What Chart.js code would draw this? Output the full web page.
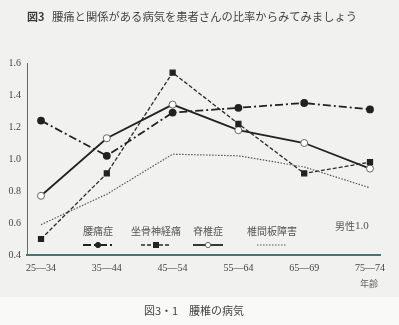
<!DOCTYPE html>
<html><head><meta charset="utf-8">
<script src="https://cdn.jsdelivr.net/npm/chart.js@4/dist/chart.umd.min.js"></script>
<style>html,body{margin:0;padding:0;background:#f1f2f0}#wrap{width:399px;height:325px}</style>
</head><body><div id="wrap"><canvas id="c" width="399" height="325"></canvas></div>
<script>
const ageGroups = ['25—34','35—44','45—54','55—64','65—69','75—74'];
const lumbago = [1.24, 1.02, 1.29, 1.32, 1.35, 1.31];
const sciatica = [0.50, 0.91, 1.54, 1.22, 0.91, 0.98];
const spondylosis = [0.77, 1.13, 1.34, 1.18, 1.10, 0.94];
const discDisorder = [0.59, 0.78, 1.03, 1.02, 0.95, 0.82];
const seriesNames = ['腰痛症','坐骨神経痛','脊椎症','椎間板障害'];
const yTicks = [0.4, 0.6, 0.8, 1.0, 1.2, 1.4, 1.6];
const titleLabel = '図3';
const titleText = '腰痛と関係がある病気を患者さんの比率からみてみましょう';
const captionText = '図3・1　腰椎の病気';
const refText = '男性1.0';
const xAxisTitle = '年齢';

const toPts = arr => arr.map((v,i)=>({x:i,y:v}));
const serif = "'Liberation Serif','DejaVu Serif',serif";
const cjk = "'Noto Sans CJK JP','Noto Sans CJK SC',sans-serif";

const datasets = [
  {label:seriesNames[0], data:toPts(lumbago), borderColor:'#222', borderWidth:1.8, borderDash:[8,3,2,3],
   pointStyle:'circle', pointRadius:3, backgroundColor:'#222', pointBorderColor:'#222'},
  {label:seriesNames[1], data:toPts(sciatica), borderColor:'#2a2a2a', borderWidth:1.3, borderDash:[4,2],
   pointStyle:'rect', pointRadius:3.5, backgroundColor:'#222', pointBorderColor:'#222'},
  {label:seriesNames[2], data:toPts(spondylosis), borderColor:'#222', borderWidth:1.8,
   pointStyle:'circle', pointRadius:3.5, backgroundColor:'#fff', pointBorderColor:'#666', pointBorderWidth:1},
  {label:seriesNames[3], data:toPts(discDisorder), borderColor:'#555', borderWidth:1.2, borderDash:[1.5,1.5],
   pointRadius:0, backgroundColor:'#555'}
];

const legendPos = [98, 156, 208, 272];

const deco = {
  id:'deco',
  beforeDraw(chart){
    const ctx = chart.ctx;
    ctx.save();
    ctx.fillStyle = '#f1f2f0'; ctx.fillRect(0,0,399,297);
    ctx.fillStyle = '#f9f9f8'; ctx.fillRect(0,297,399,28);
    ctx.restore();
  },
  afterDraw(chart){
    const ctx = chart.ctx;
    const ca = chart.chartArea;
    ctx.save();
    ctx.fillStyle = '#3a3a3a';
    ctx.textBaseline = 'middle';
    ctx.textAlign = 'left';
    ctx.font = "bold 11px " + cjk;
    ctx.fillText(titleLabel, 27, 17);
    ctx.font = "11.3px " + cjk;
    ctx.fillStyle = '#444';
    ctx.fillText(titleText, 52, 17);
    // legend
    ctx.font = "10px " + cjk;
    ctx.fillStyle = '#555';
    chart.data.datasets.forEach((ds,i)=>{
      const cx = legendPos[i];
      ctx.textAlign = 'center';
      ctx.fillText(ds.label, cx, ca.bottom - 24);
      const y = ca.bottom - 10;
      ctx.save();
      ctx.strokeStyle = ds.borderColor;
      ctx.lineWidth = ds.borderWidth;
      ctx.setLineDash(ds.borderDash || []);
      ctx.beginPath(); ctx.moveTo(cx-15,y); ctx.lineTo(cx+15,y); ctx.stroke();
      ctx.setLineDash([]);
      if (ds.pointRadius > 0) {
        ctx.fillStyle = ds.backgroundColor;
        ctx.strokeStyle = ds.pointBorderColor;
        ctx.lineWidth = 1;
        if (ds.pointStyle === 'rect') {
          ctx.fillRect(cx-3, y-3, 6, 6);
        } else {
          ctx.beginPath(); ctx.arc(cx, y, 2.6, 0, Math.PI*2); ctx.fill(); ctx.stroke();
        }
      }
      ctx.restore();
    });
    ctx.fillStyle = '#555';
    ctx.textAlign = 'left';
    ctx.font = "10px " + cjk;
    ctx.fillText('男性', 335, ca.bottom - 29);
    ctx.font = "11px " + serif;
    ctx.fillText('1.0', 355, ca.bottom - 29);
    ctx.font = "9px " + cjk;
    ctx.fillStyle = '#666';
    ctx.textAlign = 'center';
    ctx.fillText(xAxisTitle, 369, 284);
    ctx.font = "11px " + cjk;
    ctx.fillStyle = '#444';
    ctx.fillText(captionText, 194, 311);
    ctx.restore();
  }
};

new Chart(document.getElementById('c'), {
  type:'line',
  data:{datasets},
  options:{
    responsive:false, animation:false, devicePixelRatio:1,
    layout:{padding:{top:63, right:19, left:0, bottom:0}},
    plugins:{legend:{display:false}, title:{display:false}, tooltip:{enabled:false}},
    elements:{line:{tension:0, fill:false}},
    scales:{
      x:{type:'linear', min:-0.213, max:5.152,
        afterFit(s){ s.height = 70; },
        afterBuildTicks(s){ s.ticks = ageGroups.map((_,i)=>({value:i})); },
        ticks:{callback:(v)=>ageGroups[v], font:{family:serif, size:10}, color:'#444', padding:7, autoSkip:false, maxRotation:0},
        grid:{display:false, drawTicks:false},
        border:{display:true, color:'#4f7275', width:2}
      },
      y:{min:0.4, max:1.6,
        afterFit(s){ s.width = 27; },
        afterBuildTicks(s){ s.ticks = yTicks.map(v=>({value:v})); },
        ticks:{callback:(v)=>v.toFixed(1), font:{family:serif, size:10}, color:'#444', padding:6},
        grid:{display:false, drawTicks:false},
        border:{display:true, color:'#6b6a5a', width:1}
      }
    }
  },
  plugins:[deco]
});
</script></body></html>
